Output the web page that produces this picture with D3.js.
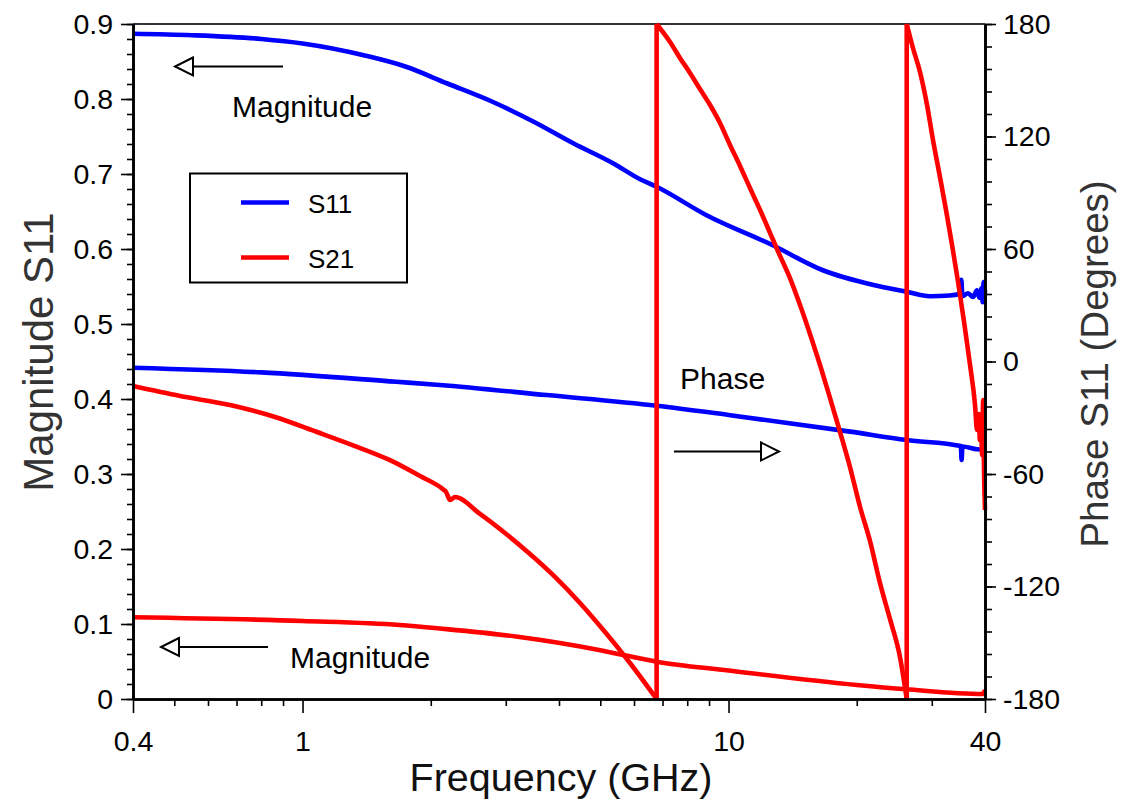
<!DOCTYPE html>
<html>
<head>
<meta charset="utf-8">
<script src="https://cdn.jsdelivr.net/npm/d3@7"></script>
<style>
  html, body { margin: 0; padding: 0; background: #fff; }
  svg { display: block; font-family: "Liberation Sans", Arial, sans-serif; }
</style>
</head>
<body>
<svg id="chart" width="1121" height="801"></svg>
<script>
// ---- Measured S-parameters (frequency in GHz) ----
// S11 magnitude (left axis)
const s11MagFreq = [0.4, 0.55, 0.8, 1.0, 1.4, 1.75, 2.18, 2.8, 3.48, 4.32, 5.37, 6.2, 6.78, 8.88, 12.7, 16.6, 21.9, 26.2, 29.7, 33, 34.8, 35.2, 35.4, 36.5, 37.5, 38.3, 38.8, 39.3, 39.5, 39.7, 39.85, 40];
const s11MagVal  = [0.887, 0.885, 0.880, 0.874, 0.858, 0.843, 0.821, 0.796, 0.770, 0.741, 0.714, 0.693, 0.683, 0.645, 0.605, 0.572, 0.552, 0.543, 0.537, 0.538, 0.540, 0.559, 0.537, 0.541, 0.536, 0.545, 0.535, 0.548, 0.529, 0.556, 0.530, 0.545];

// S11 phase (right axis, degrees)
const s11PhaseFreq = [0.4, 0.8, 1.66, 2.1, 3.74, 6.78, 10, 19.3, 26.2, 35.1, 35.25, 35.4, 38.3, 40];
const s11PhaseVal  = [-3.3, -5.8, -10.8, -12.5, -17.9, -23.6, -28.5, -37.4, -41.9, -45.1, -52.5, -45.3, -46.8, -47.2];

// S21 magnitude (left axis)
const s21MagFreq = [0.4, 1.0, 1.69, 2.1, 3.2, 5, 5.66, 6.78, 10, 20, 26.2, 39.5, 39.8, 40];
const s21MagVal  = [0.109, 0.104, 0.0987, 0.094, 0.083, 0.065, 0.0587, 0.0497, 0.038, 0.0187, 0.0129, 0.0066, 0.009, 0.012];

// S21 phase (right axis, degrees) – wraps at ±180 (a repeated frequency marks the wrap)
const s21PhaseFreq = [
  0.4, 0.516, 0.676, 0.862, 1.081, 1.328, 1.60, 1.888, 2.148, 2.17, 2.22, 2.28, 2.61, 2.987, 3.42, 3.914, 4.48, 5.13, 5.87, 6.78,
  6.78, 7.29, 7.69, 8.12, 8.57, 9.05, 9.55, 10.08, 10.64, 11.23, 11.86, 12.52, 13.21, 13.94, 14.72, 15.53, 16.40, 17.31,
  18.27, 19.28, 20.36, 21.48, 22.67, 23.93, 25.26, 26.2,
  26.2, 27.1, 28.15, 29.24, 30.2, 31.36, 32.4, 33.48, 34.58, 35.72, 36.9, 37.9, 38.3, 38.7, 38.9, 39.1, 39.4, 39.6, 39.8, 40];
const s21PhaseVal  = [
  -13.1, -18.4, -23.2, -29.6, -37.6, -45.1, -52.5, -61.1, -68.5, -69.4, -73.9, -72.3, -81.3, -91.5, -102.7, -114.9, -128.8, -144.3, -160.8, -180,
  180, 170.4, 161.9, 153.9, 145.3, 136.8, 127.2, 115.5, 104.3, 92.5, 80.8, 68.5, 56.3, 44.5, 30.1, 14.7, -1.9, -19.5,
  -37.6, -56.3, -77.6, -95.7, -118.1, -137.3, -157.5, -180,
  180, 167.2, 154.4, 136.8, 118.1, 98.4, 80.8, 62.1, 42.4, 21.1, -1.9, -23.2, -36.5, -28, -41.9, -31.2, -50, -20.5, -60, -79.2];

// ---- Axis ticks ----
const xMajorTicks = [0.4, 1, 10, 40];
const xMinorTicks = [0.5, 0.6, 0.7, 0.8, 0.9, 2, 3, 4, 5, 6, 7, 8, 9, 20, 30];
const yLeftMajor  = [0, 0.1, 0.2, 0.3, 0.4, 0.5, 0.6, 0.7, 0.8, 0.9];
const yRightMajor = [-180, -120, -60, 0, 60, 120, 180];

const legendLabels = ["S11", "S21"];
const seriesColors = ["#0000ff", "#ff0000"];

// ---- Layout ----
const plot = { left: 133, right: 985, top: 24, bottom: 699 };
const svg = d3.select("#chart");

const x = d3.scaleLog().domain([0.4, 40]).range([plot.left, plot.right]);
const yL = d3.scaleLinear().domain([0, 0.9]).range([plot.bottom, plot.top]);
const yR = d3.scaleLinear().domain([-180, 180]).range([plot.bottom, plot.top]);

const zip = (fs, vs) => fs.map((f, i) => [f, vs[i]]);
const smoothL = d3.line().x(d => x(d[0])).y(d => yL(d[1])).curve(d3.curveMonotoneX);
const smoothR = d3.line().x(d => x(d[0])).y(d => yR(d[1])).curve(d3.curveMonotoneX);
const lineR = d3.line().x(d => x(d[0])).y(d => yR(d[1]));

// split a wrapped phase trace into continuous runs plus the vertical wrap jumps
function splitWraps(pts) {
  const runs = [[pts[0]]], jumps = [];
  for (let i = 1; i < pts.length; i++) {
    if (pts[i][0] === pts[i - 1][0]) {
      jumps.push([pts[i - 1], pts[i]]);
      runs.push([pts[i]]);
    } else {
      runs[runs.length - 1].push(pts[i]);
    }
  }
  return { runs, jumps };
}

// top frame edge
svg.append("line")
  .attr("x1", plot.left).attr("x2", plot.right)
  .attr("y1", plot.top).attr("y2", plot.top)
  .attr("stroke", "#333").attr("stroke-width", 2);

// ---- Data curves (S11 beneath, S21 over it) ----
const curves = svg.append("g").attr("fill", "none").attr("stroke-width", 4.6)
  .attr("stroke-linejoin", "round");
curves.append("path").attr("stroke", seriesColors[0]).attr("d", smoothL(zip(s11MagFreq, s11MagVal)));
curves.append("path").attr("stroke", seriesColors[0]).attr("d", smoothR(zip(s11PhaseFreq, s11PhaseVal)));
curves.append("path").attr("stroke", seriesColors[1]).attr("d", smoothL(zip(s21MagFreq, s21MagVal)));

const s21Phase = splitWraps(zip(s21PhaseFreq, s21PhaseVal));
s21Phase.runs.forEach(run =>
  curves.append("path").attr("stroke", seriesColors[1]).attr("d", smoothR(run)));
s21Phase.jumps.forEach(j =>
  curves.append("path").attr("stroke", seriesColors[1]).attr("d", lineR(j)));

// ---- Axes ----
function styleAxis(g, fontSize) {
  g.select(".domain").attr("stroke", "#000").attr("stroke-width", 2.6);
  g.selectAll(".tick line").attr("stroke", "#000").attr("stroke-width", 1.6);
  g.selectAll(".tick text").attr("fill", "#000").style("font-size", fontSize + "px")
    .style("font-family", "'Liberation Sans', Arial, sans-serif");
}

const fmtX = d => (d === 0.4 ? "0.4" : String(d));

const gxMinor = svg.append("g").attr("transform", `translate(0,${plot.bottom})`)
  .call(d3.axisBottom(x).tickValues(xMinorTicks).tickSize(7).tickSizeOuter(0).tickFormat(""));
styleAxis(gxMinor, 28);
const gx = svg.append("g").attr("transform", `translate(0,${plot.bottom})`)
  .call(d3.axisBottom(x).tickValues(xMajorTicks).tickSize(14).tickSizeOuter(0).tickPadding(18).tickFormat(fmtX));
styleAxis(gx, 28.5);

const gyMinor = svg.append("g").attr("transform", `translate(${plot.left},0)`)
  .call(d3.axisLeft(yL).tickValues(d3.range(0, 46).map(i => i * 0.02)).tickSize(6).tickSizeOuter(0).tickFormat(""));
styleAxis(gyMinor, 28);
const gy = svg.append("g").attr("transform", `translate(${plot.left},0)`)
  .call(d3.axisLeft(yL).tickValues(yLeftMajor).tickSize(12).tickSizeOuter(0).tickPadding(8)
    .tickFormat(d => (d === 0 ? "0" : d3.format(".1f")(d))));
styleAxis(gy, 28.5);

const gyrMinor = svg.append("g").attr("transform", `translate(${plot.right},0)`)
  .call(d3.axisRight(yR).tickValues(d3.range(-180, 181, 12)).tickSize(7).tickSizeOuter(0).tickFormat(""));
styleAxis(gyrMinor, 28);
const gyr = svg.append("g").attr("transform", `translate(${plot.right},0)`)
  .call(d3.axisRight(yR).tickValues(yRightMajor).tickSize(11).tickSizeOuter(0).tickPadding(7)
    .tickFormat(d => String(d)));
styleAxis(gyr, 28.5);

// ---- Axis titles ----
svg.append("text")
  .attr("x", (plot.left + plot.right) / 2 + 2).attr("y", 791)
  .attr("text-anchor", "middle").attr("fill", "#111")
  .style("font-size", "39.5px").text("Frequency (GHz)");

svg.append("text")
  .attr("transform", "translate(53,352) rotate(-90)")
  .attr("text-anchor", "middle").attr("fill", "#333")
  .style("font-size", "42px").text("Magnitude S11");

svg.append("text")
  .attr("transform", "translate(1108,364) rotate(-90)")
  .attr("text-anchor", "middle").attr("fill", "#333")
  .style("font-size", "38.5px").text("Phase S11 (Degrees)");

// ---- Annotations with open-headed arrows ----
function arrow(x1, x2, y, dir) {
  // shaft from x1 to x2, hollow triangular head pointing in dir (-1 left, +1 right)
  const g = svg.append("g");
  const headLen = 18, half = 9;
  const base = dir < 0 ? Math.min(x1, x2) : Math.max(x1, x2);
  const tip = base + dir * headLen;
  g.append("line").attr("x1", x1).attr("x2", x2).attr("y1", y).attr("y2", y)
    .attr("stroke", "#000").attr("stroke-width", 2);
  g.append("path")
    .attr("d", `M${base},${y - half}L${tip},${y}L${base},${y + half}Z`)
    .attr("fill", "#fff").attr("stroke", "#000").attr("stroke-width", 2);
}

arrow(193, 283, 66.5, -1);
arrow(179, 268, 647, -1);
arrow(674, 761, 451.5, 1);

const annot = [
  { t: "Magnitude", x: 232, y: 117 },
  { t: "Magnitude", x: 290, y: 668 },
  { t: "Phase", x: 680, y: 389 }
];
svg.selectAll("text.annot").data(annot).join("text")
  .attr("class", "annot")
  .attr("x", d => d.x).attr("y", d => d.y)
  .attr("fill", "#000").style("font-size", "30px")
  .text(d => d.t);

// ---- Legend ----
const legend = svg.append("g");
legend.append("rect")
  .attr("x", 190).attr("y", 173.5).attr("width", 217).attr("height", 109)
  .attr("fill", "#fff").attr("stroke", "#000").attr("stroke-width", 2);
const legendRows = [202.5, 257.5];
legendLabels.forEach((lab, i) => {
  legend.append("line")
    .attr("x1", 241).attr("x2", 289).attr("y1", legendRows[i]).attr("y2", legendRows[i])
    .attr("stroke", seriesColors[i]).attr("stroke-width", 4.6);
  legend.append("text")
    .attr("x", 308).attr("y", legendRows[i] + 10)
    .attr("fill", "#000").style("font-size", "26px").text(lab);
});
</script>
</body>
</html>
